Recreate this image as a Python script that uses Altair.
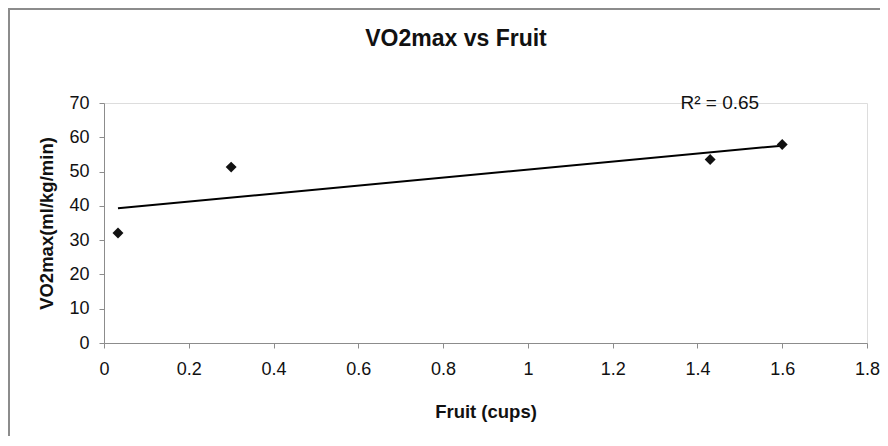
import altair as alt
import pandas as pd

# Data
fruit_cups = [0.033, 0.30, 1.43, 1.60]
vo2max = [32.1, 51.3, 53.5, 57.9]

title_text = "VO2max vs Fruit"
x_title = "Fruit (cups)"
y_title = "VO2max(ml/kg/min)"
r2_label = "R² = 0.65"
r2_pos_x = [1.36]
r2_pos_y = [68.2]
x_ticks = [0, 0.2, 0.4, 0.6, 0.8, 1.0, 1.2, 1.4, 1.6, 1.8]
y_ticks = [0, 10, 20, 30, 40, 50, 60, 70]

FONT = "Liberation Sans, Arial, sans-serif"
W, H = 763, 240
PAD_L, PAD_T, PAD_R, PAD_B = 96, 95, 13, 93

df = pd.DataFrame({"fruit": fruit_cups, "vo2": vo2max})
ann = pd.DataFrame({"x": r2_pos_x, "y": r2_pos_y, "t": [r2_label]})
ttl = pd.DataFrame({"t": [title_text]})

xscale = alt.Scale(domain=[0, 1.8], nice=False, zero=True)
yscale = alt.Scale(domain=[0, 70], nice=False)

xaxis = alt.Axis(
    title=x_title, values=x_ticks,
    labelExpr="datum.value == 0 ? '0' : datum.value == 1 ? '1' : format(datum.value, '.1f')",
    grid=False, tickSize=5, labelPadding=12, titlePadding=24,
    domainColor="#8c8c8c", tickColor="#8c8c8c",
    labelFont=FONT, labelFontSize=18, labelColor="#111",
    titleFont=FONT, titleFontSize=18.5, titleFontWeight="bold", titleColor="#111",
    labelFlush=False, labelOverlap=False,
)
yaxis = alt.Axis(
    title=y_title, values=y_ticks,
    grid=False, tickSize=5, labelPadding=10, titlePadding=12,
    domainColor="#8c8c8c", tickColor="#8c8c8c",
    labelFont=FONT, labelFontSize=18, labelColor="#111",
    titleFont=FONT, titleFontSize=18.5, titleFontWeight="bold", titleColor="#111",
    labelOverlap=False,
)

base = alt.Chart(df)

points = base.mark_point(shape="diamond", filled=True, size=120, color="#111", opacity=1).encode(
    x=alt.X("fruit:Q", scale=xscale, axis=xaxis),
    y=alt.Y("vo2:Q", scale=yscale, axis=yaxis),
)

trend = base.transform_regression("fruit", "vo2").mark_line(color="#000", strokeWidth=2).encode(
    x=alt.X("fruit:Q", scale=xscale, axis=xaxis),
    y=alt.Y("vo2:Q", scale=yscale, axis=yaxis),
)

r2 = alt.Chart(ann).mark_text(
    align="left", baseline="alphabetic", font=FONT, fontSize=19, color="#111"
).encode(
    x=alt.X("x:Q", scale=xscale, axis=xaxis),
    y=alt.Y("y:Q", scale=yscale, axis=yaxis),
    text="t:N",
)

title = alt.Chart(ttl).mark_text(
    align="center", baseline="alphabetic", font=FONT, fontSize=23, fontWeight="bold", color="#111"
).encode(x=alt.value(352), y=alt.value(-57), text="t:N")

frame_left = alt.Chart(ttl).mark_rule(color="#8c8c8c", strokeWidth=2).encode(
    x=alt.value(-95), y=alt.value(-PAD_T), y2=alt.value(H + PAD_B)
)
frame_top = alt.Chart(ttl).mark_rule(color="#8c8c8c", strokeWidth=2).encode(
    x=alt.value(-PAD_L), x2=alt.value(W + PAD_R), y=alt.value(-94)
)

chart = alt.layer(frame_left, frame_top, title, trend, points, r2).properties(
    width=W, height=H,
    autosize=alt.AutoSizeParams(type="none"),
    padding={"left": PAD_L, "top": PAD_T, "right": PAD_R, "bottom": PAD_B},
).configure_view(stroke=None).configure(background="white")

chart.save("out.html", embed_options={"renderer": "svg", "actions": False})
